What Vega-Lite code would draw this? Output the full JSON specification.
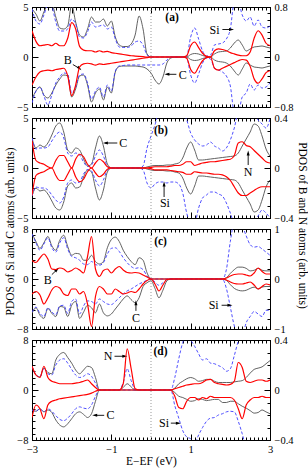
{
"$schema":"https://vega.github.io/schema/vega-lite/v6.json",
"padding":{"left":3,"top":0,"right":0,"bottom":0},
"spacing":11,
"bounds":"flush",
"config":{"view":{"stroke":"#000","strokeWidth":1},
"axis":{"domain":false,"grid":false,"labelFont":"Liberation Serif","titleFont":"Liberation Serif","labelFontSize":10.5,"titleFontSize":11.5,"titleFontWeight":"normal","labelColor":"#000","titleColor":"#000","tickColor":"#000","labelOverlap":false,"labelFlush":false,"labelPadding":10,"format":"~g"},
"text":{"font":"Liberation Serif"}},
"datasets":{
"a":[
{"x":-3,"Cu":4.8,"Cd":-4.2,"Su":4.8,"Sd":-4.6,"Ru":0.42,"Rd":-0.45},
{"x":-2.9,"Cu":4.3,"Cd":-3.4,"Su":3.6,"Sd":-3.4,"Ru":0.25,"Rd":-0.32},
{"x":-2.8,"Cu":3.6,"Cd":-3.0,"Su":3.3,"Sd":-3.0,"Ru":0.18,"Rd":-0.24},
{"x":-2.7,"Cu":4.5,"Cd":-3.8,"Su":4.2,"Sd":-3.9,"Ru":0.19,"Rd":-0.22},
{"x":-2.6,"Cu":5.2,"Cd":-4.1,"Su":5.2,"Sd":-4.8,"Ru":0.2,"Rd":-0.21},
{"x":-2.5,"Cu":5.3,"Cd":-3.6,"Su":5.0,"Sd":-3.8,"Ru":0.18,"Rd":-0.22},
{"x":-2.4,"Cu":4.0,"Cd":-2.8,"Su":3.5,"Sd":-2.6,"Ru":0.22,"Rd":-0.2},
{"x":-2.3,"Cu":2.9,"Cd":-2.2,"Su":2.6,"Sd":-2.0,"Ru":0.18,"Rd":-0.19},
{"x":-2.2,"Cu":2.8,"Cd":-1.8,"Su":2.6,"Sd":-1.6,"Ru":0.18,"Rd":-0.18},
{"x":-2.1,"Cu":3.1,"Cd":-1.9,"Su":2.8,"Sd":-1.7,"Ru":0.3,"Rd":-0.3},
{"x":-2,"Cu":5.2,"Cd":-4.0,"Su":3.8,"Sd":-3.6,"Ru":0.55,"Rd":-0.62},
{"x":-1.9,"Cu":3.5,"Cd":-3.2,"Su":3.3,"Sd":-3.0,"Ru":0.45,"Rd":-0.45},
{"x":-1.8,"Cu":2.2,"Cd":-1.9,"Su":2.0,"Sd":-1.8,"Ru":0.17,"Rd":-0.16},
{"x":-1.7,"Cu":2.0,"Cd":-1.8,"Su":1.9,"Sd":-1.7,"Ru":0.11,"Rd":-0.11},
{"x":-1.6,"Cu":2.8,"Cd":-2.8,"Su":2.5,"Sd":-2.6,"Ru":0.1,"Rd":-0.1},
{"x":-1.5,"Cu":4.0,"Cd":-4.5,"Su":3.5,"Sd":-4.2,"Ru":0.1,"Rd":-0.11},
{"x":-1.4,"Cu":3.5,"Cd":-3.6,"Su":3.0,"Sd":-3.4,"Ru":0.08,"Rd":-0.13},
{"x":-1.3,"Cu":3.5,"Cd":-3.2,"Su":3.1,"Sd":-3.0,"Ru":0.1,"Rd":-0.11},
{"x":-1.2,"Cu":3.8,"Cd":-4.3,"Su":3.2,"Sd":-4.0,"Ru":0.08,"Rd":-0.12},
{"x":-1.1,"Cu":3.1,"Cd":-3.0,"Su":2.8,"Sd":-2.8,"Ru":0.09,"Rd":-0.11},
{"x":-1,"Cu":3.6,"Cd":-3.6,"Su":3.0,"Sd":-3.4,"Ru":0.07,"Rd":-0.1},
{"x":-0.9,"Cu":2.0,"Cd":-1.5,"Su":1.8,"Sd":-1.4,"Ru":0.06,"Rd":-0.09},
{"x":-0.8,"Cu":1.2,"Cd":-0.95,"Su":1.0,"Sd":-0.9,"Ru":0.05,"Rd":-0.08},
{"x":-0.7,"Cu":1.05,"Cd":-0.9,"Su":0.95,"Sd":-0.85,"Ru":0.04,"Rd":-0.07},
{"x":-0.6,"Cu":1.05,"Cd":-0.9,"Su":0.95,"Sd":-0.8,"Ru":0.03,"Rd":-0.06},
{"x":-0.5,"Cu":1.3,"Cd":-0.9,"Su":1.1,"Sd":-0.8,"Ru":0.02,"Rd":-0.05},
{"x":-0.4,"Cu":2.2,"Cd":-0.9,"Su":1.5,"Sd":-0.8,"Ru":0.015,"Rd":-0.04},
{"x":-0.3,"Cu":4.1,"Cd":-0.95,"Su":1.6,"Sd":-0.8,"Ru":0.01,"Rd":-0.03},
{"x":-0.2,"Cu":2.8,"Cd":-1.0,"Su":1.2,"Sd":-0.8,"Ru":0.005,"Rd":-0.02},
{"x":-0.1,"Cu":0.3,"Cd":-1.2,"Su":0.2,"Sd":-0.8,"Ru":0,"Rd":-0.01},
{"x":0,"Cu":0,"Cd":-1.6,"Su":0,"Sd":-0.8,"Ru":0,"Rd":0},
{"x":0.1,"Cu":0,"Cd":-2.3,"Su":0,"Sd":-0.8,"Ru":0,"Rd":0},
{"x":0.2,"Cu":0,"Cd":-2.7,"Su":0,"Sd":-0.8,"Ru":0,"Rd":0},
{"x":0.3,"Cu":0,"Cd":-2.0,"Su":0,"Sd":-0.7,"Ru":0,"Rd":0},
{"x":0.4,"Cu":0,"Cd":-0.6,"Su":0,"Sd":-0.3,"Ru":0,"Rd":0},
{"x":0.5,"Cu":0,"Cd":-0.1,"Su":0,"Sd":0,"Ru":0,"Rd":0},
{"x":0.6,"Cu":0,"Cd":0,"Su":0,"Sd":0,"Ru":0,"Rd":0},
{"x":0.7,"Cu":0,"Cd":0,"Su":0,"Sd":0,"Ru":0,"Rd":0},
{"x":0.8,"Cu":0,"Cd":0,"Su":0,"Sd":0,"Ru":0,"Rd":0},
{"x":0.9,"Cu":0,"Cd":0,"Su":0.1,"Sd":-0.1,"Ru":0.02,"Rd":-0.02},
{"x":1,"Cu":0.25,"Cd":-0.25,"Su":2.0,"Sd":-1.8,"Ru":0.18,"Rd":-0.2},
{"x":1.1,"Cu":0.35,"Cd":-0.35,"Su":2.9,"Sd":-2.6,"Ru":0.24,"Rd":-0.26},
{"x":1.2,"Cu":0.3,"Cd":-0.3,"Su":1.8,"Sd":-1.7,"Ru":0.15,"Rd":-0.16},
{"x":1.3,"Cu":0.15,"Cd":-0.15,"Su":0.6,"Sd":-0.6,"Ru":0.06,"Rd":-0.06},
{"x":1.4,"Cu":0.05,"Cd":-0.05,"Su":0.1,"Sd":-0.1,"Ru":0.01,"Rd":-0.01},
{"x":1.5,"Cu":0,"Cd":0,"Su":0.2,"Sd":-0.2,"Ru":0,"Rd":0},
{"x":1.6,"Cu":0.3,"Cd":-0.3,"Su":1.2,"Sd":-1.1,"Ru":0.1,"Rd":-0.18},
{"x":1.7,"Cu":0.5,"Cd":-0.45,"Su":1.3,"Sd":-1.3,"Ru":0.13,"Rd":-0.21},
{"x":1.8,"Cu":0.55,"Cd":-0.5,"Su":1.4,"Sd":-1.5,"Ru":0.12,"Rd":-0.18},
{"x":1.9,"Cu":0.6,"Cd":-0.6,"Su":1.8,"Sd":-1.9,"Ru":0.1,"Rd":-0.15},
{"x":2,"Cu":0.9,"Cd":-0.9,"Su":2.8,"Sd":-2.9,"Ru":0.07,"Rd":-0.12},
{"x":2.1,"Cu":1.4,"Cd":-1.4,"Su":5.5,"Sd":-5.5,"Ru":0.05,"Rd":-0.09},
{"x":2.2,"Cu":1.7,"Cd":-1.8,"Su":5.5,"Sd":-5.5,"Ru":0.03,"Rd":-0.06},
{"x":2.3,"Cu":1.2,"Cd":-1.2,"Su":4.2,"Sd":-4.0,"Ru":0.02,"Rd":-0.04},
{"x":2.4,"Cu":0.6,"Cd":-0.6,"Su":3.6,"Sd":-3.6,"Ru":0.02,"Rd":-0.05},
{"x":2.5,"Cu":0.8,"Cd":-0.8,"Su":4.0,"Sd":-2.7,"Ru":0.08,"Rd":-0.15},
{"x":2.6,"Cu":1.0,"Cd":-1.0,"Su":3.1,"Sd":-3.3,"Ru":0.3,"Rd":-0.35},
{"x":2.7,"Cu":1.05,"Cd":-1.05,"Su":3.7,"Sd":-2.8,"Ru":0.42,"Rd":-0.42},
{"x":2.8,"Cu":1.1,"Cd":-1.1,"Su":3.0,"Sd":-3.1,"Ru":0.35,"Rd":-0.35},
{"x":2.9,"Cu":1.0,"Cd":-1.0,"Su":2.9,"Sd":-3.0,"Ru":0.22,"Rd":-0.25},
{"x":3,"Cu":0.9,"Cd":-0.9,"Su":3.1,"Sd":-2.6,"Ru":0.18,"Rd":-0.22}
],
"b":[
{"x":-3,"Cu":3.0,"Cd":-2.8,"Su":3.0,"Sd":-2.8,"Ru":0.22,"Rd":-0.22},
{"x":-2.9,"Cu":2.0,"Cd":-2.0,"Su":1.9,"Sd":-1.9,"Ru":0.06,"Rd":-0.06},
{"x":-2.8,"Cu":2.3,"Cd":-2.3,"Su":2.0,"Sd":-2.0,"Ru":0.04,"Rd":-0.04},
{"x":-2.7,"Cu":2.1,"Cd":-2.2,"Su":2.0,"Sd":-2.0,"Ru":0.03,"Rd":-0.03},
{"x":-2.6,"Cu":2.5,"Cd":-2.6,"Su":2.1,"Sd":-2.2,"Ru":0.01,"Rd":-0.01},
{"x":-2.5,"Cu":3.3,"Cd":-3.3,"Su":2.7,"Sd":-2.7,"Ru":0,"Rd":0},
{"x":-2.4,"Cu":4.2,"Cd":-4.0,"Su":3.3,"Sd":-3.2,"Ru":0.06,"Rd":-0.06},
{"x":-2.3,"Cu":4.5,"Cd":-4.2,"Su":3.6,"Sd":-3.5,"Ru":0.1,"Rd":-0.1},
{"x":-2.2,"Cu":3.6,"Cd":-3.4,"Su":3.0,"Sd":-2.9,"Ru":0.1,"Rd":-0.1},
{"x":-2.1,"Cu":1.8,"Cd":-1.8,"Su":1.5,"Sd":-1.5,"Ru":0.05,"Rd":-0.05},
{"x":-2,"Cu":1.5,"Cd":-1.5,"Su":1.2,"Sd":-1.2,"Ru":0,"Rd":0},
{"x":-1.9,"Cu":2.0,"Cd":-2.0,"Su":1.5,"Sd":-1.5,"Ru":0.07,"Rd":-0.07},
{"x":-1.8,"Cu":1.8,"Cd":-1.9,"Su":1.3,"Sd":-1.4,"Ru":0.11,"Rd":-0.11},
{"x":-1.7,"Cu":0.9,"Cd":-0.9,"Su":0.6,"Sd":-0.6,"Ru":0.09,"Rd":-0.09},
{"x":-1.6,"Cu":0.2,"Cd":-0.2,"Su":0.15,"Sd":-0.15,"Ru":0.03,"Rd":-0.03},
{"x":-1.5,"Cu":0.4,"Cd":-0.4,"Su":0.3,"Sd":-0.3,"Ru":0,"Rd":0},
{"x":-1.4,"Cu":2.0,"Cd":-2.0,"Su":1.2,"Sd":-1.2,"Ru":0.04,"Rd":-0.04},
{"x":-1.3,"Cu":3.2,"Cd":-3.2,"Su":1.8,"Sd":-1.8,"Ru":0.07,"Rd":-0.07},
{"x":-1.2,"Cu":2.2,"Cd":-2.2,"Su":1.2,"Sd":-1.2,"Ru":0.05,"Rd":-0.05},
{"x":-1.1,"Cu":0.4,"Cd":-0.4,"Su":0.2,"Sd":-0.2,"Ru":0.01,"Rd":-0.01},
{"x":-1,"Cu":0,"Cd":0,"Su":0,"Sd":0,"Ru":0,"Rd":0},
{"x":-0.9,"Cu":0,"Cd":0,"Su":0,"Sd":0,"Ru":0,"Rd":0},
{"x":-0.8,"Cu":0,"Cd":0,"Su":0,"Sd":0,"Ru":0,"Rd":0},
{"x":-0.7,"Cu":0,"Cd":0,"Su":0,"Sd":0,"Ru":0,"Rd":0},
{"x":-0.6,"Cu":0,"Cd":0,"Su":0,"Sd":0,"Ru":0,"Rd":0},
{"x":-0.5,"Cu":0,"Cd":0,"Su":0,"Sd":0,"Ru":0,"Rd":0},
{"x":-0.4,"Cu":0,"Cd":0,"Su":0,"Sd":0,"Ru":0,"Rd":0},
{"x":-0.3,"Cu":0,"Cd":0,"Su":0,"Sd":0,"Ru":0,"Rd":0},
{"x":-0.2,"Cu":0,"Cd":0,"Su":0.2,"Sd":-0.2,"Ru":0,"Rd":0},
{"x":-0.1,"Cu":0.1,"Cd":-0.1,"Su":2.0,"Sd":-1.5,"Ru":0,"Rd":0},
{"x":0,"Cu":0.2,"Cd":-0.2,"Su":3.2,"Sd":-2.0,"Ru":0.005,"Rd":-0.005},
{"x":0.1,"Cu":0.25,"Cd":-0.25,"Su":4.3,"Sd":-1.6,"Ru":0.01,"Rd":-0.015},
{"x":0.2,"Cu":0.25,"Cd":-0.25,"Su":5.5,"Sd":-1.4,"Ru":0.01,"Rd":-0.015},
{"x":0.3,"Cu":0.25,"Cd":-0.25,"Su":5.5,"Sd":-1.4,"Ru":0.01,"Rd":-0.015},
{"x":0.4,"Cu":0.3,"Cd":-0.3,"Su":5.5,"Sd":-1.5,"Ru":0.01,"Rd":-0.015},
{"x":0.5,"Cu":0.3,"Cd":-0.3,"Su":5.5,"Sd":-1.4,"Ru":0.015,"Rd":-0.02},
{"x":0.6,"Cu":0.4,"Cd":-0.4,"Su":5.5,"Sd":-1.4,"Ru":0.02,"Rd":-0.025},
{"x":0.7,"Cu":0.5,"Cd":-0.5,"Su":5.5,"Sd":-1.6,"Ru":0.02,"Rd":-0.03},
{"x":0.8,"Cu":1.0,"Cd":-1.0,"Su":5.5,"Sd":-2.5,"Ru":0.03,"Rd":-0.035},
{"x":0.9,"Cu":2.0,"Cd":-2.0,"Su":4.8,"Sd":-4.5,"Ru":0.05,"Rd":-0.05},
{"x":1,"Cu":2.6,"Cd":-2.6,"Su":3.5,"Sd":-5.5,"Ru":0.05,"Rd":-0.05},
{"x":1.1,"Cu":1.8,"Cd":-1.8,"Su":2.8,"Sd":-5.5,"Ru":0.02,"Rd":-0.03},
{"x":1.2,"Cu":0.8,"Cd":-0.8,"Su":2.4,"Sd":-4.0,"Ru":0.03,"Rd":-0.035},
{"x":1.3,"Cu":0.8,"Cd":-0.8,"Su":2.2,"Sd":-3.0,"Ru":0.04,"Rd":-0.04},
{"x":1.4,"Cu":0.85,"Cd":-0.85,"Su":2.3,"Sd":-2.7,"Ru":0.045,"Rd":-0.04},
{"x":1.5,"Cu":0.9,"Cd":-0.9,"Su":2.6,"Sd":-2.4,"Ru":0.05,"Rd":-0.045},
{"x":1.6,"Cu":0.95,"Cd":-0.95,"Su":2.2,"Sd":-2.4,"Ru":0.05,"Rd":-0.05},
{"x":1.7,"Cu":1.0,"Cd":-1.0,"Su":2.0,"Sd":-2.6,"Ru":0.055,"Rd":-0.05},
{"x":1.8,"Cu":1.05,"Cd":-1.05,"Su":1.7,"Sd":-2.8,"Ru":0.06,"Rd":-0.055},
{"x":1.9,"Cu":1.1,"Cd":-1.1,"Su":2.0,"Sd":-3.5,"Ru":0.065,"Rd":-0.07},
{"x":2,"Cu":1.15,"Cd":-1.15,"Su":2.8,"Sd":-4.5,"Ru":0.07,"Rd":-0.1},
{"x":2.1,"Cu":1.2,"Cd":-1.2,"Su":4.0,"Sd":-5.5,"Ru":0.1,"Rd":-0.15},
{"x":2.2,"Cu":1.5,"Cd":-1.5,"Su":5.5,"Sd":-5.5,"Ru":0.2,"Rd":-0.2},
{"x":2.3,"Cu":2.2,"Cd":-2.2,"Su":5.5,"Sd":-5.5,"Ru":0.21,"Rd":-0.22},
{"x":2.4,"Cu":2.9,"Cd":-2.9,"Su":5.5,"Sd":-5.5,"Ru":0.18,"Rd":-0.22},
{"x":2.5,"Cu":3.6,"Cd":-3.6,"Su":5.5,"Sd":-5.5,"Ru":0.17,"Rd":-0.2},
{"x":2.6,"Cu":4.4,"Cd":-4.4,"Su":5.5,"Sd":-5.5,"Ru":0.14,"Rd":-0.18},
{"x":2.7,"Cu":4.2,"Cd":-4.2,"Su":4.8,"Sd":-4.8,"Ru":0.11,"Rd":-0.16},
{"x":2.8,"Cu":3.2,"Cd":-3.2,"Su":4.4,"Sd":-4.2,"Ru":0.08,"Rd":-0.15},
{"x":2.9,"Cu":1.9,"Cd":-1.9,"Su":4.0,"Sd":-4.5,"Ru":0.05,"Rd":-0.15},
{"x":3,"Cu":1.2,"Cd":-1.2,"Su":4.9,"Sd":-5.0,"Ru":0.04,"Rd":-0.15}
],
"c":[
{"x":-3,"Cu":7.3,"Cd":-5.5,"Su":7.2,"Sd":-5.3,"Ru":0.37,"Rd":-0.3},
{"x":-2.9,"Cu":6.0,"Cd":-4.6,"Su":5.8,"Sd":-4.5,"Ru":0.33,"Rd":-0.25},
{"x":-2.8,"Cu":4.9,"Cd":-5.8,"Su":4.6,"Sd":-5.5,"Ru":0.42,"Rd":-0.32},
{"x":-2.7,"Cu":5.8,"Cd":-6.3,"Su":5.6,"Sd":-6.0,"Ru":0.5,"Rd":-0.5},
{"x":-2.6,"Cu":6.8,"Cd":-4.7,"Su":6.6,"Sd":-4.6,"Ru":0.4,"Rd":-0.38},
{"x":-2.5,"Cu":5.3,"Cd":-5.5,"Su":5.0,"Sd":-5.3,"Ru":0.2,"Rd":-0.22},
{"x":-2.4,"Cu":4.6,"Cd":-6.0,"Su":4.3,"Sd":-5.7,"Ru":0.19,"Rd":-0.15},
{"x":-2.3,"Cu":6.2,"Cd":-4.4,"Su":5.8,"Sd":-4.3,"Ru":0.22,"Rd":-0.18},
{"x":-2.2,"Cu":7.0,"Cd":-4.5,"Su":6.6,"Sd":-4.2,"Ru":0.2,"Rd":-0.3},
{"x":-2.1,"Cu":5.2,"Cd":-6.0,"Su":4.8,"Sd":-5.5,"Ru":0.14,"Rd":-0.33},
{"x":-2,"Cu":3.8,"Cd":-4.2,"Su":3.6,"Sd":-3.6,"Ru":0.17,"Rd":-0.2},
{"x":-1.9,"Cu":4.1,"Cd":-3.6,"Su":3.4,"Sd":-3.2,"Ru":0.22,"Rd":-0.2},
{"x":-1.8,"Cu":4.0,"Cd":-6.3,"Su":3.0,"Sd":-5.6,"Ru":0.18,"Rd":-0.3},
{"x":-1.7,"Cu":3.0,"Cd":-5.3,"Su":2.4,"Sd":-4.3,"Ru":0.12,"Rd":-0.25},
{"x":-1.6,"Cu":3.0,"Cd":-4.2,"Su":2.3,"Sd":-3.5,"Ru":0.45,"Rd":-0.5},
{"x":-1.5,"Cu":3.8,"Cd":-4.6,"Su":2.8,"Sd":-3.6,"Ru":0.85,"Rd":-0.95},
{"x":-1.4,"Cu":2.8,"Cd":-5.4,"Su":2.3,"Sd":-4.0,"Ru":0.2,"Rd":-0.35},
{"x":-1.3,"Cu":2.4,"Cd":-4.0,"Su":2.2,"Sd":-3.2,"Ru":0.05,"Rd":-0.15},
{"x":-1.2,"Cu":2.8,"Cd":-5.4,"Su":2.6,"Sd":-3.6,"Ru":0.17,"Rd":-0.2},
{"x":-1.1,"Cu":5.0,"Cd":-5.9,"Su":4.0,"Sd":-4.0,"Ru":0.2,"Rd":-0.3},
{"x":-1,"Cu":6.3,"Cd":-5.6,"Su":4.9,"Sd":-4.1,"Ru":0.12,"Rd":-0.3},
{"x":-0.9,"Cu":6.7,"Cd":-4.8,"Su":5.0,"Sd":-3.6,"Ru":0.2,"Rd":-0.2},
{"x":-0.8,"Cu":6.0,"Cd":-4.0,"Su":4.4,"Sd":-3.0,"Ru":0.25,"Rd":-0.25},
{"x":-0.7,"Cu":4.6,"Cd":-3.2,"Su":3.4,"Sd":-2.4,"Ru":0.18,"Rd":-0.3},
{"x":-0.6,"Cu":3.6,"Cd":-2.7,"Su":2.6,"Sd":-1.9,"Ru":0.13,"Rd":-0.28},
{"x":-0.5,"Cu":2.8,"Cd":-3.3,"Su":2.0,"Sd":-1.6,"Ru":0.12,"Rd":-0.25},
{"x":-0.4,"Cu":2.3,"Cd":-3.8,"Su":1.7,"Sd":-1.2,"Ru":0.13,"Rd":-0.27},
{"x":-0.3,"Cu":3.4,"Cd":-3.0,"Su":1.8,"Sd":-0.8,"Ru":0.12,"Rd":-0.2},
{"x":-0.2,"Cu":3.0,"Cd":-1.2,"Su":1.5,"Sd":-0.5,"Ru":0.08,"Rd":-0.1},
{"x":-0.1,"Cu":1.0,"Cd":-0.6,"Su":0.5,"Sd":-0.2,"Ru":0.04,"Rd":-0.03},
{"x":0,"Cu":0,"Cd":-0.3,"Su":0,"Sd":0,"Ru":0,"Rd":0},
{"x":0.1,"Cu":0,"Cd":-1.5,"Su":0,"Sd":-0.5,"Ru":0,"Rd":-0.1},
{"x":0.2,"Cu":0,"Cd":-3.0,"Su":0,"Sd":-1.0,"Ru":0,"Rd":-0.24},
{"x":0.3,"Cu":0,"Cd":-1.8,"Su":0,"Sd":-0.6,"Ru":0,"Rd":-0.12},
{"x":0.4,"Cu":0,"Cd":-0.3,"Su":0,"Sd":-0.1,"Ru":0,"Rd":-0.01},
{"x":0.5,"Cu":0,"Cd":0,"Su":0,"Sd":0,"Ru":0,"Rd":0},
{"x":0.6,"Cu":0,"Cd":0,"Su":0,"Sd":0,"Ru":0,"Rd":0},
{"x":0.7,"Cu":0,"Cd":0,"Su":0,"Sd":0,"Ru":0,"Rd":0},
{"x":0.8,"Cu":0,"Cd":0,"Su":0,"Sd":0,"Ru":0,"Rd":0},
{"x":0.9,"Cu":0,"Cd":0,"Su":0,"Sd":0,"Ru":0,"Rd":0},
{"x":1,"Cu":0,"Cd":0,"Su":0,"Sd":0,"Ru":0,"Rd":0},
{"x":1.1,"Cu":0,"Cd":0,"Su":0,"Sd":0,"Ru":0,"Rd":0},
{"x":1.2,"Cu":0,"Cd":0,"Su":0,"Sd":0,"Ru":0,"Rd":0},
{"x":1.3,"Cu":0,"Cd":0,"Su":0,"Sd":0,"Ru":0,"Rd":0},
{"x":1.4,"Cu":0,"Cd":0,"Su":0,"Sd":0,"Ru":0,"Rd":0},
{"x":1.5,"Cu":0,"Cd":0,"Su":0,"Sd":0,"Ru":0,"Rd":0},
{"x":1.6,"Cu":0,"Cd":0,"Su":0,"Sd":0,"Ru":0,"Rd":0},
{"x":1.7,"Cu":0,"Cd":0,"Su":0,"Sd":0,"Ru":0,"Rd":0},
{"x":1.8,"Cu":0,"Cd":0,"Su":0,"Sd":0,"Ru":0,"Rd":0},
{"x":1.9,"Cu":0.2,"Cd":-0.2,"Su":1.5,"Sd":-1.5,"Ru":0.02,"Rd":-0.02},
{"x":2,"Cu":0.9,"Cd":-0.9,"Su":6.0,"Sd":-4.5,"Ru":0.06,"Rd":-0.06},
{"x":2.1,"Cu":1.5,"Cd":-1.5,"Su":9,"Sd":-7.5,"Ru":0.09,"Rd":-0.09},
{"x":2.2,"Cu":1.9,"Cd":-1.8,"Su":9,"Sd":-9,"Ru":0.1,"Rd":-0.1},
{"x":2.3,"Cu":1.9,"Cd":-1.9,"Su":8.5,"Sd":-9,"Ru":0.1,"Rd":-0.1},
{"x":2.4,"Cu":1.7,"Cd":-1.8,"Su":6.9,"Sd":-7.0,"Ru":0.08,"Rd":-0.08},
{"x":2.5,"Cu":1.3,"Cd":-1.5,"Su":5.5,"Sd":-6.0,"Ru":0.06,"Rd":-0.06},
{"x":2.6,"Cu":1.4,"Cd":-1.3,"Su":5.1,"Sd":-5.2,"Ru":0.12,"Rd":-0.12},
{"x":2.7,"Cu":1.7,"Cd":-1.6,"Su":5.2,"Sd":-5.6,"Ru":0.22,"Rd":-0.2},
{"x":2.8,"Cu":1.4,"Cd":-1.3,"Su":4.8,"Sd":-6.0,"Ru":0.15,"Rd":-0.15},
{"x":2.9,"Cu":1.3,"Cd":-1.2,"Su":4.3,"Sd":-5.0,"Ru":0.1,"Rd":-0.1},
{"x":3,"Cu":1.3,"Cd":-1.2,"Su":3.8,"Sd":-5.0,"Ru":0.1,"Rd":-0.12}
],
"d":[
{"x":-3,"Cu":3.8,"Cd":-3.2,"Su":3.8,"Sd":-3.2,"Ru":0.19,"Rd":-0.22},
{"x":-2.9,"Cu":2.4,"Cd":-3.4,"Su":2.4,"Sd":-3.4,"Ru":0.12,"Rd":-0.12},
{"x":-2.8,"Cu":2.1,"Cd":-3.0,"Su":2.1,"Sd":-3.0,"Ru":0.1,"Rd":-0.15},
{"x":-2.7,"Cu":3.5,"Cd":-3.5,"Su":3.5,"Sd":-3.5,"Ru":0.19,"Rd":-0.23},
{"x":-2.6,"Cu":2.8,"Cd":-3.2,"Su":2.6,"Sd":-3.0,"Ru":0.1,"Rd":-0.12},
{"x":-2.5,"Cu":2.6,"Cd":-3.6,"Su":2.4,"Sd":-3.4,"Ru":0.07,"Rd":-0.09},
{"x":-2.4,"Cu":4.8,"Cd":-4.8,"Su":4.0,"Sd":-4.1,"Ru":0.06,"Rd":-0.08},
{"x":-2.3,"Cu":5.7,"Cd":-5.6,"Su":4.8,"Sd":-4.7,"Ru":0.05,"Rd":-0.07},
{"x":-2.2,"Cu":6.0,"Cd":-5.9,"Su":5.0,"Sd":-4.9,"Ru":0.05,"Rd":-0.065},
{"x":-2.1,"Cu":5.2,"Cd":-5.4,"Su":4.3,"Sd":-4.5,"Ru":0.05,"Rd":-0.06},
{"x":-2,"Cu":4.3,"Cd":-4.6,"Su":3.3,"Sd":-3.8,"Ru":0.05,"Rd":-0.055},
{"x":-1.9,"Cu":3.2,"Cd":-3.8,"Su":2.4,"Sd":-3.0,"Ru":0.055,"Rd":-0.05},
{"x":-1.8,"Cu":2.6,"Cd":-3.5,"Su":2.0,"Sd":-2.7,"Ru":0.06,"Rd":-0.045},
{"x":-1.7,"Cu":3.2,"Cd":-3.9,"Su":2.2,"Sd":-2.9,"Ru":0.07,"Rd":-0.04},
{"x":-1.6,"Cu":3.8,"Cd":-4.4,"Su":2.6,"Sd":-3.0,"Ru":0.08,"Rd":-0.035},
{"x":-1.5,"Cu":3.6,"Cd":-3.8,"Su":2.2,"Sd":-2.4,"Ru":0.05,"Rd":-0.025},
{"x":-1.4,"Cu":2.0,"Cd":-1.8,"Su":1.1,"Sd":-1.0,"Ru":0.02,"Rd":-0.01},
{"x":-1.3,"Cu":0,"Cd":0,"Su":0,"Sd":0,"Ru":0,"Rd":0},
{"x":-1.2,"Cu":0,"Cd":0,"Su":0,"Sd":0,"Ru":0,"Rd":0},
{"x":-1.1,"Cu":0,"Cd":0,"Su":0,"Sd":0,"Ru":0,"Rd":0},
{"x":-1,"Cu":0,"Cd":0,"Su":0,"Sd":0,"Ru":0,"Rd":0},
{"x":-0.9,"Cu":0,"Cd":0,"Su":0,"Sd":0,"Ru":0,"Rd":0},
{"x":-0.8,"Cu":0,"Cd":0,"Su":0,"Sd":0,"Ru":0,"Rd":0},
{"x":-0.7,"Cu":0.4,"Cd":0,"Su":1.2,"Sd":0,"Ru":0.05,"Rd":0},
{"x":-0.6,"Cu":1.0,"Cd":0,"Su":3.4,"Sd":0,"Ru":0.33,"Rd":0},
{"x":-0.5,"Cu":0.5,"Cd":0,"Su":1.5,"Sd":0,"Ru":0.17,"Rd":0},
{"x":-0.4,"Cu":0,"Cd":0,"Su":0.1,"Sd":0,"Ru":0.01,"Rd":0},
{"x":-0.3,"Cu":0,"Cd":0,"Su":0,"Sd":0,"Ru":0,"Rd":0},
{"x":-0.2,"Cu":0,"Cd":0,"Su":0,"Sd":0,"Ru":0,"Rd":0},
{"x":-0.1,"Cu":0,"Cd":0,"Su":0,"Sd":0,"Ru":0,"Rd":0},
{"x":0,"Cu":0,"Cd":0,"Su":0,"Sd":0,"Ru":0,"Rd":0},
{"x":0.1,"Cu":0,"Cd":0,"Su":0,"Sd":0,"Ru":0,"Rd":0},
{"x":0.2,"Cu":0,"Cd":0,"Su":0,"Sd":0,"Ru":0,"Rd":0},
{"x":0.3,"Cu":0,"Cd":0,"Su":0,"Sd":0,"Ru":0,"Rd":0},
{"x":0.4,"Cu":0,"Cd":0,"Su":0,"Sd":0,"Ru":0,"Rd":0},
{"x":0.5,"Cu":0,"Cd":0,"Su":0,"Sd":0,"Ru":0,"Rd":0},
{"x":0.6,"Cu":0.3,"Cd":-0.4,"Su":2.0,"Sd":-2.5,"Ru":0.01,"Rd":-0.05},
{"x":0.7,"Cu":1.0,"Cd":-1.0,"Su":5.0,"Sd":-4.5,"Ru":0.02,"Rd":-0.14},
{"x":0.8,"Cu":1.4,"Cd":-1.2,"Su":7.6,"Sd":-6.5,"Ru":0.03,"Rd":-0.15},
{"x":0.9,"Cu":1.8,"Cd":-1.5,"Su":9,"Sd":-7.5,"Ru":0.04,"Rd":-0.09},
{"x":1,"Cu":2.0,"Cd":-1.8,"Su":8.0,"Sd":-7.8,"Ru":0.045,"Rd":-0.06},
{"x":1.1,"Cu":1.8,"Cd":-1.7,"Su":7.0,"Sd":-8.5,"Ru":0.05,"Rd":-0.06},
{"x":1.2,"Cu":1.4,"Cd":-1.4,"Su":5.8,"Sd":-7.2,"Ru":0.05,"Rd":-0.08},
{"x":1.3,"Cu":1.5,"Cd":-1.5,"Su":4.8,"Sd":-6.0,"Ru":0.06,"Rd":-0.06},
{"x":1.4,"Cu":1.7,"Cd":-1.7,"Su":5.0,"Sd":-5.0,"Ru":0.08,"Rd":-0.07},
{"x":1.5,"Cu":1.7,"Cd":-1.6,"Su":4.3,"Sd":-4.5,"Ru":0.085,"Rd":-0.05},
{"x":1.6,"Cu":1.4,"Cd":-1.5,"Su":4.2,"Sd":-4.4,"Ru":0.06,"Rd":-0.06},
{"x":1.7,"Cu":1.2,"Cd":-1.5,"Su":3.9,"Sd":-4.0,"Ru":0.05,"Rd":-0.06},
{"x":1.8,"Cu":1.2,"Cd":-2.0,"Su":3.6,"Sd":-3.8,"Ru":0.045,"Rd":-0.06},
{"x":1.9,"Cu":1.2,"Cd":-2.0,"Su":3.0,"Sd":-3.5,"Ru":0.04,"Rd":-0.06},
{"x":2,"Cu":1.2,"Cd":-1.8,"Su":3.4,"Sd":-3.4,"Ru":0.045,"Rd":-0.06},
{"x":2.1,"Cu":1.3,"Cd":-1.8,"Su":5.5,"Sd":-3.5,"Ru":0.07,"Rd":-0.08},
{"x":2.2,"Cu":1.4,"Cd":-2.2,"Su":7.8,"Sd":-5.0,"Ru":0.22,"Rd":-0.15},
{"x":2.3,"Cu":1.5,"Cd":-2.6,"Su":9,"Sd":-7.0,"Ru":0.18,"Rd":-0.23},
{"x":2.4,"Cu":2.0,"Cd":-2.9,"Su":9,"Sd":-9,"Ru":0.07,"Rd":-0.12},
{"x":2.5,"Cu":2.7,"Cd":-3.3,"Su":9,"Sd":-9,"Ru":0.06,"Rd":-0.08},
{"x":2.6,"Cu":3.3,"Cd":-3.7,"Su":9,"Sd":-9,"Ru":0.07,"Rd":-0.06},
{"x":2.7,"Cu":3.5,"Cd":-3.6,"Su":9,"Sd":-9,"Ru":0.08,"Rd":-0.06},
{"x":2.8,"Cu":3.7,"Cd":-3.2,"Su":9,"Sd":-9,"Ru":0.08,"Rd":-0.05},
{"x":2.9,"Cu":4.2,"Cd":-3.5,"Su":9,"Sd":-9,"Ru":0.07,"Rd":-0.06},
{"x":3,"Cu":4.7,"Cd":-3.8,"Su":9,"Sd":-9,"Ru":0.08,"Rd":-0.06}
],
"labels":[
{"p":"a","k":"tag","t":"(a)","x":0.53,"y":3.9},
{"p":"a","k":"lab","t":"B","x":-2.1,"y":-0.3},
{"p":"a","k":"lab","t":"C","x":0.8,"y":-1.75},
{"p":"a","k":"lab","t":"Si","x":1.6,"y":2.7},
{"p":"b","k":"tag","t":"(b)","x":0.25,"y":3.7},
{"p":"b","k":"lab","t":"C","x":-0.7,"y":2.5},
{"p":"b","k":"lab","t":"Si","x":0.35,"y":-3.5},
{"p":"b","k":"lab","t":"N","x":2.45,"y":-0.4},
{"p":"c","k":"tag","t":"(c)","x":0.24,"y":5.9},
{"p":"c","k":"lab","t":"B","x":-2.6,"y":-0.1},
{"p":"c","k":"lab","t":"C","x":-0.38,"y":-6.2},
{"p":"c","k":"lab","t":"Si","x":1.58,"y":-4.2},
{"p":"d","k":"tag","t":"(d)","x":0.24,"y":6.1},
{"p":"d","k":"lab","t":"N","x":-1.08,"y":5.4},
{"p":"d","k":"lab","t":"C","x":-1.02,"y":-4.05},
{"p":"d","k":"lab","t":"Si","x":0.33,"y":-5.3}
],
"arrows":[
{"p":"a","x":-1.97,"y":-0.75,"x2":-1.8,"y2":-1.15,"d":"dr"},
{"p":"a","x":0.64,"y":-1.73,"x2":0.4,"y2":-1.73,"d":"l"},
{"p":"a","x":1.8,"y":2.75,"x2":2.03,"y2":2.75,"d":"r"},
{"p":"b","x":-0.85,"y":2.5,"x2":-1.15,"y2":2.5,"d":"l"},
{"p":"b","x":0.33,"y":-2.9,"x2":0.33,"y2":-1.6,"d":"u"},
{"p":"b","x":2.45,"y":0.3,"x2":2.45,"y2":1.5,"d":"u"},
{"p":"c","x":-2.5,"y":0.7,"x2":-2.37,"y2":1.5,"d":"ur"},
{"p":"c","x":-0.38,"y":-5.1,"x2":-0.38,"y2":-3.8,"d":"u"},
{"p":"c","x":1.78,"y":-4.2,"x2":1.99,"y2":-4.2,"d":"r"},
{"p":"d","x":-0.92,"y":5.4,"x2":-0.66,"y2":5.4,"d":"r"},
{"p":"d","x":-1.18,"y":-4.05,"x2":-1.42,"y2":-4.05,"d":"l"},
{"p":"d","x":0.5,"y":-5.3,"x2":0.69,"y2":-5.3,"d":"r"}
]
},
"vconcat":[
{"width":238,"height":100,"data":{"name":"a"},
"resolve":{"scale":{"y":"independent"},"axis":{"x":"independent"}},
"layer":[
{"layer":[
{"transform":[{"fold":["Cu","Cd"],"as":["k","v"]}],"mark":{"type":"line","interpolate":"monotone","stroke":"#505050","strokeWidth":0.9,"clip":true},
"encoding":{"x":{"field":"x","type":"quantitative","scale":{"domain":[-3,3],"nice":false},"axis":{"orient":"bottom","values":[-3,-2,-1,0,1,2,3],"labels":false,"title":null,"tickSize":-6}},
"y":{"field":"v","type":"quantitative","scale":{"domain":[-5,5],"nice":false},"axis":{"orient":"left","values":[-5,0,5],"labelOverlap":false,"tickSize":-6,"title":null}},
"detail":{"field":"k"}}},
{"transform":[{"fold":["Su","Sd"],"as":["k","v"]}],"mark":{"type":"line","interpolate":"monotone","stroke":"#3b3bff","strokeWidth":0.9,"strokeDash":[3,2],"clip":true},
"encoding":{"x":{"field":"x","type":"quantitative","scale":{"domain":[-3,3],"nice":false}},"y":{"field":"v","type":"quantitative","scale":{"domain":[-5,5],"nice":false}},"detail":{"field":"k"}}},
{"data":{"values":[{"x":0}]},"mark":{"type":"rule","stroke":"#999","strokeDash":[1,2]},
"encoding":{"x":{"field":"x","type":"quantitative","scale":{"domain":[-3,3],"nice":false}}}},
{"data":{"name":"labels"},"transform":[{"filter":"datum.p=='a' && datum.k=='tag'"}],"mark":{"type":"text","fontSize":11.5,"fontWeight":"bold"},
"encoding":{"x":{"field":"x","type":"quantitative","scale":{"domain":[-3,3],"nice":false}},"y":{"field":"y","type":"quantitative","scale":{"domain":[-5,5],"nice":false}},"text":{"field":"t"}}},
{"data":{"name":"labels"},"transform":[{"filter":"datum.p=='a' && datum.k=='lab'"}],"mark":{"type":"text","fontSize":12},
"encoding":{"x":{"field":"x","type":"quantitative","scale":{"domain":[-3,3],"nice":false}},"y":{"field":"y","type":"quantitative","scale":{"domain":[-5,5],"nice":false}},"text":{"field":"t"}}},
{"data":{"name":"arrows"},"transform":[{"filter":"datum.p=='a'"}],"mark":{"type":"rule","stroke":"#000","strokeWidth":0.9},
"encoding":{"x":{"field":"x","type":"quantitative","scale":{"domain":[-3,3],"nice":false}},"y":{"field":"y","type":"quantitative","scale":{"domain":[-5,5],"nice":false}},"x2":{"field":"x2"},"y2":{"field":"y2"}}},
{"data":{"name":"arrows"},"transform":[{"filter":"datum.p=='a'"}],"mark":{"type":"point","filled":true,"color":"#000","opacity":1,"size":25},
"encoding":{"x":{"field":"x2","type":"quantitative","scale":{"domain":[-3,3],"nice":false}},"y":{"field":"y2","type":"quantitative","scale":{"domain":[-5,5],"nice":false}},
"shape":{"field":"d","type":"nominal","legend":null,"scale":{"domain":["r","l","u","dr","ur"],"range":["M1,0L-1,-0.6L-1,0.6Z","M-1,0L1,-0.6L1,0.6Z","M0,-1L-0.6,1L0.6,1Z","M0.71,0.71L-1.13,-0.29L-0.29,-1.13Z","M0.71,-0.71L-0.29,1.13L-1.13,0.29Z"]}}}}
]},
{"transform":[{"fold":["Ru","Rd"],"as":["k","v"]}],"mark":{"type":"line","interpolate":"monotone","stroke":"#ff0000","strokeWidth":1.2,"clip":true},
"encoding":{"x":{"field":"x","type":"quantitative","scale":{"domain":[-3,3],"nice":false},"axis":{"orient":"top","values":[-3,-2,-1,0,1,2,3],"labels":false,"title":null,"tickSize":-6}},
"y":{"field":"v","type":"quantitative","scale":{"domain":[-0.8,0.8],"nice":false},"axis":{"orient":"right","values":[-0.8,0,0.8],"labelOverlap":false,"tickSize":-6,"title":null}},
"detail":{"field":"k"}}},
{"mark":{"type":"point","opacity":0},
"encoding":{"x":{"field":"x","type":"quantitative","scale":{"domain":[-3,3],"nice":false},"axis":{"orient":"bottom","values":[-3,-2.9,-2.8,-2.7,-2.6,-2.5,-2.4,-2.3,-2.2,-2.1,-2,-1.9,-1.8,-1.7,-1.6,-1.5,-1.4,-1.3,-1.2,-1.1,-1,-0.9,-0.8,-0.7,-0.6,-0.5,-0.4,-0.3,-0.2,-0.1,0,0.1,0.2,0.3,0.4,0.5,0.6,0.7,0.8,0.9,1,1.1,1.2,1.3,1.4,1.5,1.6,1.7,1.8,1.9,2,2.1,2.2,2.3,2.4,2.5,2.6,2.7,2.8,2.9,3],"labels":false,"title":null,"tickSize":-3}},
"y":{"field":"Cu","type":"quantitative","scale":{"domain":[-5,5],"nice":false},"axis":{"orient":"left","values":[-5,-4,-3,-2,-1,0,1,2,3,4,5],"labels":false,"title":null,"tickSize":-3}}}},
{"mark":{"type":"point","opacity":0},
"encoding":{"x":{"field":"x","type":"quantitative","scale":{"domain":[-3,3],"nice":false},"axis":{"orient":"top","values":[-3,-2.9,-2.8,-2.7,-2.6,-2.5,-2.4,-2.3,-2.2,-2.1,-2,-1.9,-1.8,-1.7,-1.6,-1.5,-1.4,-1.3,-1.2,-1.1,-1,-0.9,-0.8,-0.7,-0.6,-0.5,-0.4,-0.3,-0.2,-0.1,0,0.1,0.2,0.3,0.4,0.5,0.6,0.7,0.8,0.9,1,1.1,1.2,1.3,1.4,1.5,1.6,1.7,1.8,1.9,2,2.1,2.2,2.3,2.4,2.5,2.6,2.7,2.8,2.9,3],"labels":false,"title":null,"tickSize":-3}},
"y":{"field":"Ru","type":"quantitative","scale":{"domain":[-0.8,0.8],"nice":false},"axis":{"orient":"right","values":[-0.8,-0.7,-0.6,-0.5,-0.4,-0.3,-0.2,-0.1,0,0.1,0.2,0.3,0.4,0.5,0.6,0.7,0.8],"labels":false,"title":null,"tickSize":-3}}}}
]},
{"width":238,"height":100,"data":{"name":"b"},
"resolve":{"scale":{"y":"independent"},"axis":{"x":"independent"}},
"layer":[
{"layer":[
{"transform":[{"fold":["Cu","Cd"],"as":["k","v"]}],"mark":{"type":"line","interpolate":"monotone","stroke":"#505050","strokeWidth":0.9,"clip":true},
"encoding":{"x":{"field":"x","type":"quantitative","scale":{"domain":[-3,3],"nice":false},"axis":{"orient":"bottom","values":[-3,-2,-1,0,1,2,3],"labels":false,"title":null,"tickSize":-6}},
"y":{"field":"v","type":"quantitative","scale":{"domain":[-5,5],"nice":false},"axis":{"orient":"left","values":[-5,0,5],"labelOverlap":false,"tickSize":-6,"title":"PDOS of Si and C atoms (arb. units)","titleX":-17,"titleY":113,"titleAngle":-90,"titleBaseline":"bottom","titleAlign":"center"}},
"detail":{"field":"k"}}},
{"transform":[{"fold":["Su","Sd"],"as":["k","v"]}],"mark":{"type":"line","interpolate":"monotone","stroke":"#3b3bff","strokeWidth":0.9,"strokeDash":[3,2],"clip":true},
"encoding":{"x":{"field":"x","type":"quantitative","scale":{"domain":[-3,3],"nice":false}},"y":{"field":"v","type":"quantitative","scale":{"domain":[-5,5],"nice":false}},"detail":{"field":"k"}}},
{"data":{"values":[{"x":0}]},"mark":{"type":"rule","stroke":"#999","strokeDash":[1,2]},
"encoding":{"x":{"field":"x","type":"quantitative","scale":{"domain":[-3,3],"nice":false}}}},
{"data":{"name":"labels"},"transform":[{"filter":"datum.p=='b' && datum.k=='tag'"}],"mark":{"type":"text","fontSize":11.5,"fontWeight":"bold"},
"encoding":{"x":{"field":"x","type":"quantitative","scale":{"domain":[-3,3],"nice":false}},"y":{"field":"y","type":"quantitative","scale":{"domain":[-5,5],"nice":false}},"text":{"field":"t"}}},
{"data":{"name":"labels"},"transform":[{"filter":"datum.p=='b' && datum.k=='lab'"}],"mark":{"type":"text","fontSize":12},
"encoding":{"x":{"field":"x","type":"quantitative","scale":{"domain":[-3,3],"nice":false}},"y":{"field":"y","type":"quantitative","scale":{"domain":[-5,5],"nice":false}},"text":{"field":"t"}}},
{"data":{"name":"arrows"},"transform":[{"filter":"datum.p=='b'"}],"mark":{"type":"rule","stroke":"#000","strokeWidth":0.9},
"encoding":{"x":{"field":"x","type":"quantitative","scale":{"domain":[-3,3],"nice":false}},"y":{"field":"y","type":"quantitative","scale":{"domain":[-5,5],"nice":false}},"x2":{"field":"x2"},"y2":{"field":"y2"}}},
{"data":{"name":"arrows"},"transform":[{"filter":"datum.p=='b'"}],"mark":{"type":"point","filled":true,"color":"#000","opacity":1,"size":25},
"encoding":{"x":{"field":"x2","type":"quantitative","scale":{"domain":[-3,3],"nice":false}},"y":{"field":"y2","type":"quantitative","scale":{"domain":[-5,5],"nice":false}},
"shape":{"field":"d","type":"nominal","legend":null,"scale":{"domain":["r","l","u","dr","ur"],"range":["M1,0L-1,-0.6L-1,0.6Z","M-1,0L1,-0.6L1,0.6Z","M0,-1L-0.6,1L0.6,1Z","M0.71,0.71L-1.13,-0.29L-0.29,-1.13Z","M0.71,-0.71L-0.29,1.13L-1.13,0.29Z"]}}}}
]},
{"transform":[{"fold":["Ru","Rd"],"as":["k","v"]}],"mark":{"type":"line","interpolate":"monotone","stroke":"#ff0000","strokeWidth":1.2,"clip":true},
"encoding":{"x":{"field":"x","type":"quantitative","scale":{"domain":[-3,3],"nice":false},"axis":{"orient":"top","values":[-3,-2,-1,0,1,2,3],"labels":false,"title":null,"tickSize":-6}},
"y":{"field":"v","type":"quantitative","scale":{"domain":[-0.4,0.4],"nice":false},"axis":{"orient":"right","values":[-0.4,0,0.4],"labelOverlap":false,"tickSize":-6,"title":"PDOS of B and N atoms (arb. units)","titleX":26,"titleY":107,"titleAngle":90,"titleBaseline":"bottom","titleAlign":"center"}},
"detail":{"field":"k"}}},
{"mark":{"type":"point","opacity":0},
"encoding":{"x":{"field":"x","type":"quantitative","scale":{"domain":[-3,3],"nice":false},"axis":{"orient":"bottom","values":[-3,-2.9,-2.8,-2.7,-2.6,-2.5,-2.4,-2.3,-2.2,-2.1,-2,-1.9,-1.8,-1.7,-1.6,-1.5,-1.4,-1.3,-1.2,-1.1,-1,-0.9,-0.8,-0.7,-0.6,-0.5,-0.4,-0.3,-0.2,-0.1,0,0.1,0.2,0.3,0.4,0.5,0.6,0.7,0.8,0.9,1,1.1,1.2,1.3,1.4,1.5,1.6,1.7,1.8,1.9,2,2.1,2.2,2.3,2.4,2.5,2.6,2.7,2.8,2.9,3],"labels":false,"title":null,"tickSize":-3}},
"y":{"field":"Cu","type":"quantitative","scale":{"domain":[-5,5],"nice":false},"axis":{"orient":"left","values":[-5,-4,-3,-2,-1,0,1,2,3,4,5],"labels":false,"title":null,"tickSize":-3}}}},
{"mark":{"type":"point","opacity":0},
"encoding":{"x":{"field":"x","type":"quantitative","scale":{"domain":[-3,3],"nice":false},"axis":{"orient":"top","values":[-3,-2.9,-2.8,-2.7,-2.6,-2.5,-2.4,-2.3,-2.2,-2.1,-2,-1.9,-1.8,-1.7,-1.6,-1.5,-1.4,-1.3,-1.2,-1.1,-1,-0.9,-0.8,-0.7,-0.6,-0.5,-0.4,-0.3,-0.2,-0.1,0,0.1,0.2,0.3,0.4,0.5,0.6,0.7,0.8,0.9,1,1.1,1.2,1.3,1.4,1.5,1.6,1.7,1.8,1.9,2,2.1,2.2,2.3,2.4,2.5,2.6,2.7,2.8,2.9,3],"labels":false,"title":null,"tickSize":-3}},
"y":{"field":"Ru","type":"quantitative","scale":{"domain":[-0.4,0.4],"nice":false},"axis":{"orient":"right","values":[-0.4,-0.3,-0.2,-0.1,0,0.1,0.2,0.3,0.4],"labels":false,"title":null,"tickSize":-3}}}}
]},
{"width":238,"height":100,"data":{"name":"c"},
"resolve":{"scale":{"y":"independent"},"axis":{"x":"independent"}},
"layer":[
{"layer":[
{"transform":[{"fold":["Cu","Cd"],"as":["k","v"]}],"mark":{"type":"line","interpolate":"monotone","stroke":"#505050","strokeWidth":0.9,"clip":true},
"encoding":{"x":{"field":"x","type":"quantitative","scale":{"domain":[-3,3],"nice":false},"axis":{"orient":"bottom","values":[-3,-2,-1,0,1,2,3],"labels":false,"title":null,"tickSize":-6}},
"y":{"field":"v","type":"quantitative","scale":{"domain":[-8,8],"nice":false},"axis":{"orient":"left","values":[-8,0,8],"labelOverlap":false,"tickSize":-6,"title":null}},
"detail":{"field":"k"}}},
{"transform":[{"fold":["Su","Sd"],"as":["k","v"]}],"mark":{"type":"line","interpolate":"monotone","stroke":"#3b3bff","strokeWidth":0.9,"strokeDash":[3,2],"clip":true},
"encoding":{"x":{"field":"x","type":"quantitative","scale":{"domain":[-3,3],"nice":false}},"y":{"field":"v","type":"quantitative","scale":{"domain":[-8,8],"nice":false}},"detail":{"field":"k"}}},
{"data":{"values":[{"x":0}]},"mark":{"type":"rule","stroke":"#999","strokeDash":[1,2]},
"encoding":{"x":{"field":"x","type":"quantitative","scale":{"domain":[-3,3],"nice":false}}}},
{"data":{"name":"labels"},"transform":[{"filter":"datum.p=='c' && datum.k=='tag'"}],"mark":{"type":"text","fontSize":11.5,"fontWeight":"bold"},
"encoding":{"x":{"field":"x","type":"quantitative","scale":{"domain":[-3,3],"nice":false}},"y":{"field":"y","type":"quantitative","scale":{"domain":[-8,8],"nice":false}},"text":{"field":"t"}}},
{"data":{"name":"labels"},"transform":[{"filter":"datum.p=='c' && datum.k=='lab'"}],"mark":{"type":"text","fontSize":12},
"encoding":{"x":{"field":"x","type":"quantitative","scale":{"domain":[-3,3],"nice":false}},"y":{"field":"y","type":"quantitative","scale":{"domain":[-8,8],"nice":false}},"text":{"field":"t"}}},
{"data":{"name":"arrows"},"transform":[{"filter":"datum.p=='c'"}],"mark":{"type":"rule","stroke":"#000","strokeWidth":0.9},
"encoding":{"x":{"field":"x","type":"quantitative","scale":{"domain":[-3,3],"nice":false}},"y":{"field":"y","type":"quantitative","scale":{"domain":[-8,8],"nice":false}},"x2":{"field":"x2"},"y2":{"field":"y2"}}},
{"data":{"name":"arrows"},"transform":[{"filter":"datum.p=='c'"}],"mark":{"type":"point","filled":true,"color":"#000","opacity":1,"size":25},
"encoding":{"x":{"field":"x2","type":"quantitative","scale":{"domain":[-3,3],"nice":false}},"y":{"field":"y2","type":"quantitative","scale":{"domain":[-8,8],"nice":false}},
"shape":{"field":"d","type":"nominal","legend":null,"scale":{"domain":["r","l","u","dr","ur"],"range":["M1,0L-1,-0.6L-1,0.6Z","M-1,0L1,-0.6L1,0.6Z","M0,-1L-0.6,1L0.6,1Z","M0.71,0.71L-1.13,-0.29L-0.29,-1.13Z","M0.71,-0.71L-0.29,1.13L-1.13,0.29Z"]}}}}
]},
{"transform":[{"fold":["Ru","Rd"],"as":["k","v"]}],"mark":{"type":"line","interpolate":"monotone","stroke":"#ff0000","strokeWidth":1.2,"clip":true},
"encoding":{"x":{"field":"x","type":"quantitative","scale":{"domain":[-3,3],"nice":false},"axis":{"orient":"top","values":[-3,-2,-1,0,1,2,3],"labels":false,"title":null,"tickSize":-6}},
"y":{"field":"v","type":"quantitative","scale":{"domain":[-1,1],"nice":false},"axis":{"orient":"right","values":[-1,0,1],"labelOverlap":false,"tickSize":-6,"title":null}},
"detail":{"field":"k"}}},
{"mark":{"type":"point","opacity":0},
"encoding":{"x":{"field":"x","type":"quantitative","scale":{"domain":[-3,3],"nice":false},"axis":{"orient":"bottom","values":[-3,-2.9,-2.8,-2.7,-2.6,-2.5,-2.4,-2.3,-2.2,-2.1,-2,-1.9,-1.8,-1.7,-1.6,-1.5,-1.4,-1.3,-1.2,-1.1,-1,-0.9,-0.8,-0.7,-0.6,-0.5,-0.4,-0.3,-0.2,-0.1,0,0.1,0.2,0.3,0.4,0.5,0.6,0.7,0.8,0.9,1,1.1,1.2,1.3,1.4,1.5,1.6,1.7,1.8,1.9,2,2.1,2.2,2.3,2.4,2.5,2.6,2.7,2.8,2.9,3],"labels":false,"title":null,"tickSize":-3}},
"y":{"field":"Cu","type":"quantitative","scale":{"domain":[-8,8],"nice":false},"axis":{"orient":"left","values":[-8,-7,-6,-5,-4,-3,-2,-1,0,1,2,3,4,5,6,7,8],"labels":false,"title":null,"tickSize":-3}}}},
{"mark":{"type":"point","opacity":0},
"encoding":{"x":{"field":"x","type":"quantitative","scale":{"domain":[-3,3],"nice":false},"axis":{"orient":"top","values":[-3,-2.9,-2.8,-2.7,-2.6,-2.5,-2.4,-2.3,-2.2,-2.1,-2,-1.9,-1.8,-1.7,-1.6,-1.5,-1.4,-1.3,-1.2,-1.1,-1,-0.9,-0.8,-0.7,-0.6,-0.5,-0.4,-0.3,-0.2,-0.1,0,0.1,0.2,0.3,0.4,0.5,0.6,0.7,0.8,0.9,1,1.1,1.2,1.3,1.4,1.5,1.6,1.7,1.8,1.9,2,2.1,2.2,2.3,2.4,2.5,2.6,2.7,2.8,2.9,3],"labels":false,"title":null,"tickSize":-3}},
"y":{"field":"Ru","type":"quantitative","scale":{"domain":[-1,1],"nice":false},"axis":{"orient":"right","values":[-1,-0.8,-0.6,-0.4,-0.2,0,0.2,0.4,0.6,0.8,1],"labels":false,"title":null,"tickSize":-3}}}}
]},
{"width":238,"height":100,"data":{"name":"d"},
"resolve":{"scale":{"y":"independent"},"axis":{"x":"independent"}},
"layer":[
{"layer":[
{"transform":[{"fold":["Cu","Cd"],"as":["k","v"]}],"mark":{"type":"line","interpolate":"monotone","stroke":"#505050","strokeWidth":0.9,"clip":true},
"encoding":{"x":{"field":"x","type":"quantitative","scale":{"domain":[-3,3],"nice":false},"axis":{"orient":"bottom","values":[-3,-2,-1,0,1,2,3],"labelOverlap":false,"labelFlush":false,"title":"E−EF (eV)","titlePadding":1,"tickSize":-6}},
"y":{"field":"v","type":"quantitative","scale":{"domain":[-8,8],"nice":false},"axis":{"orient":"left","values":[-8,0,8],"labelOverlap":false,"tickSize":-6,"title":null}},
"detail":{"field":"k"}}},
{"transform":[{"fold":["Su","Sd"],"as":["k","v"]}],"mark":{"type":"line","interpolate":"monotone","stroke":"#3b3bff","strokeWidth":0.9,"strokeDash":[3,2],"clip":true},
"encoding":{"x":{"field":"x","type":"quantitative","scale":{"domain":[-3,3],"nice":false}},"y":{"field":"v","type":"quantitative","scale":{"domain":[-8,8],"nice":false}},"detail":{"field":"k"}}},
{"data":{"values":[{"x":0}]},"mark":{"type":"rule","stroke":"#999","strokeDash":[1,2]},
"encoding":{"x":{"field":"x","type":"quantitative","scale":{"domain":[-3,3],"nice":false}}}},
{"data":{"name":"labels"},"transform":[{"filter":"datum.p=='d' && datum.k=='tag'"}],"mark":{"type":"text","fontSize":11.5,"fontWeight":"bold"},
"encoding":{"x":{"field":"x","type":"quantitative","scale":{"domain":[-3,3],"nice":false}},"y":{"field":"y","type":"quantitative","scale":{"domain":[-8,8],"nice":false}},"text":{"field":"t"}}},
{"data":{"name":"labels"},"transform":[{"filter":"datum.p=='d' && datum.k=='lab'"}],"mark":{"type":"text","fontSize":12},
"encoding":{"x":{"field":"x","type":"quantitative","scale":{"domain":[-3,3],"nice":false}},"y":{"field":"y","type":"quantitative","scale":{"domain":[-8,8],"nice":false}},"text":{"field":"t"}}},
{"data":{"name":"arrows"},"transform":[{"filter":"datum.p=='d'"}],"mark":{"type":"rule","stroke":"#000","strokeWidth":0.9},
"encoding":{"x":{"field":"x","type":"quantitative","scale":{"domain":[-3,3],"nice":false}},"y":{"field":"y","type":"quantitative","scale":{"domain":[-8,8],"nice":false}},"x2":{"field":"x2"},"y2":{"field":"y2"}}},
{"data":{"name":"arrows"},"transform":[{"filter":"datum.p=='d'"}],"mark":{"type":"point","filled":true,"color":"#000","opacity":1,"size":25},
"encoding":{"x":{"field":"x2","type":"quantitative","scale":{"domain":[-3,3],"nice":false}},"y":{"field":"y2","type":"quantitative","scale":{"domain":[-8,8],"nice":false}},
"shape":{"field":"d","type":"nominal","legend":null,"scale":{"domain":["r","l","u","dr","ur"],"range":["M1,0L-1,-0.6L-1,0.6Z","M-1,0L1,-0.6L1,0.6Z","M0,-1L-0.6,1L0.6,1Z","M0.71,0.71L-1.13,-0.29L-0.29,-1.13Z","M0.71,-0.71L-0.29,1.13L-1.13,0.29Z"]}}}}
]},
{"transform":[{"fold":["Ru","Rd"],"as":["k","v"]}],"mark":{"type":"line","interpolate":"monotone","stroke":"#ff0000","strokeWidth":1.2,"clip":true},
"encoding":{"x":{"field":"x","type":"quantitative","scale":{"domain":[-3,3],"nice":false},"axis":{"orient":"top","values":[-3,-2,-1,0,1,2,3],"labels":false,"title":null,"tickSize":-6}},
"y":{"field":"v","type":"quantitative","scale":{"domain":[-0.4,0.4],"nice":false},"axis":{"orient":"right","values":[-0.4,0,0.4],"labelOverlap":false,"tickSize":-6,"title":null}},
"detail":{"field":"k"}}},
{"mark":{"type":"point","opacity":0},
"encoding":{"x":{"field":"x","type":"quantitative","scale":{"domain":[-3,3],"nice":false},"axis":{"orient":"bottom","values":[-3,-2.9,-2.8,-2.7,-2.6,-2.5,-2.4,-2.3,-2.2,-2.1,-2,-1.9,-1.8,-1.7,-1.6,-1.5,-1.4,-1.3,-1.2,-1.1,-1,-0.9,-0.8,-0.7,-0.6,-0.5,-0.4,-0.3,-0.2,-0.1,0,0.1,0.2,0.3,0.4,0.5,0.6,0.7,0.8,0.9,1,1.1,1.2,1.3,1.4,1.5,1.6,1.7,1.8,1.9,2,2.1,2.2,2.3,2.4,2.5,2.6,2.7,2.8,2.9,3],"labels":false,"title":null,"tickSize":-3}},
"y":{"field":"Cu","type":"quantitative","scale":{"domain":[-8,8],"nice":false},"axis":{"orient":"left","values":[-8,-7,-6,-5,-4,-3,-2,-1,0,1,2,3,4,5,6,7,8],"labels":false,"title":null,"tickSize":-3}}}},
{"mark":{"type":"point","opacity":0},
"encoding":{"x":{"field":"x","type":"quantitative","scale":{"domain":[-3,3],"nice":false},"axis":{"orient":"top","values":[-3,-2.9,-2.8,-2.7,-2.6,-2.5,-2.4,-2.3,-2.2,-2.1,-2,-1.9,-1.8,-1.7,-1.6,-1.5,-1.4,-1.3,-1.2,-1.1,-1,-0.9,-0.8,-0.7,-0.6,-0.5,-0.4,-0.3,-0.2,-0.1,0,0.1,0.2,0.3,0.4,0.5,0.6,0.7,0.8,0.9,1,1.1,1.2,1.3,1.4,1.5,1.6,1.7,1.8,1.9,2,2.1,2.2,2.3,2.4,2.5,2.6,2.7,2.8,2.9,3],"labels":false,"title":null,"tickSize":-3}},
"y":{"field":"Ru","type":"quantitative","scale":{"domain":[-0.4,0.4],"nice":false},"axis":{"orient":"right","values":[-0.4,-0.3,-0.2,-0.1,0,0.1,0.2,0.3,0.4],"labels":false,"title":null,"tickSize":-3}}}}
]}
]
}
